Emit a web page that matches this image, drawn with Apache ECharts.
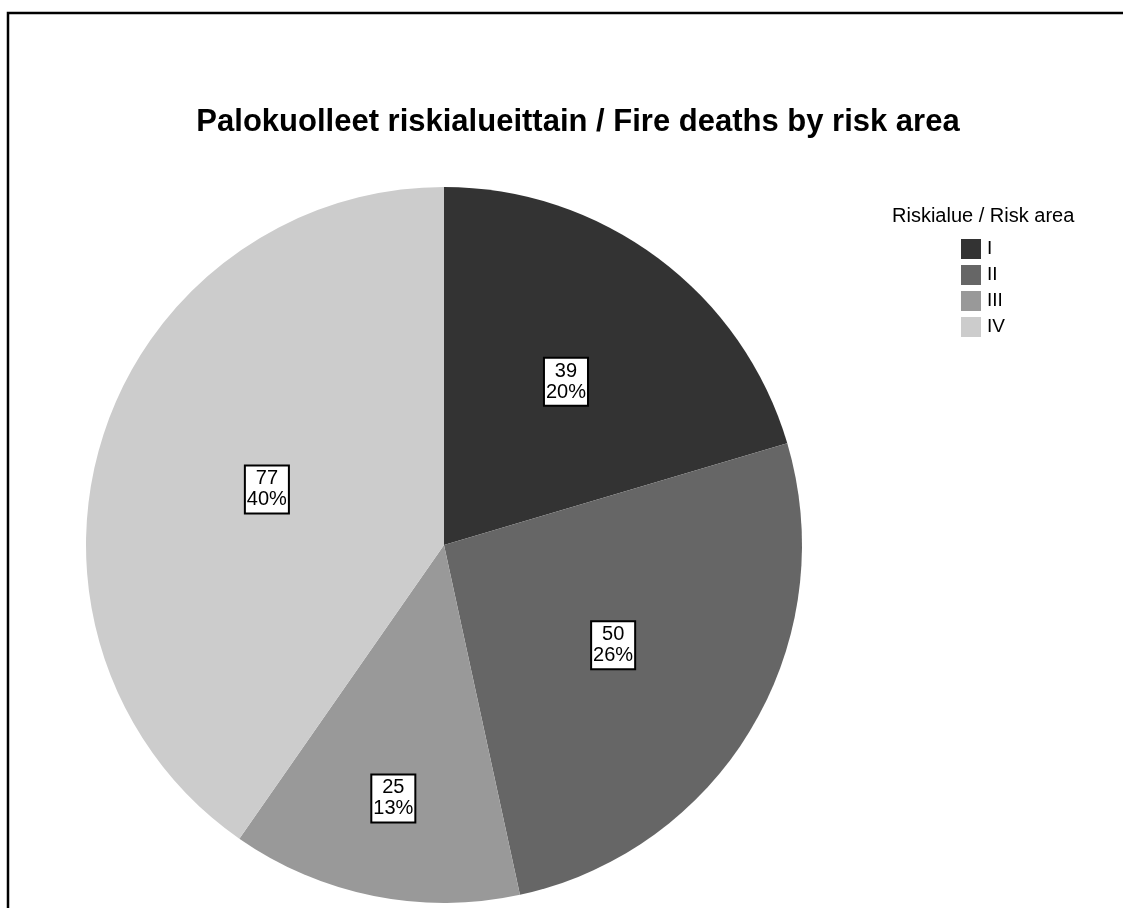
<!DOCTYPE html>
<html>
<head>
<meta charset="utf-8">
<title>Palokuolleet riskialueittain</title>
<script src="https://cdn.jsdelivr.net/npm/echarts@6/dist/echarts.min.js"></script>
<style>
  html, body { margin: 0; padding: 0; background: #fff; }
  #chart { width: 1123px; height: 908px; }
</style>
</head>
<body>
<div id="chart"></div>
<script>
// data
const categories = ['I', 'II', 'III', 'IV'];
const deaths = [39, 50, 25, 77];

// look
const sliceColors = ['#333333', '#666666', '#999999', '#cccccc'];
// how far out each label box sits, as a share of the radius
const labelRadius = [0.56, 0.54, 0.71, 0.51];

const total = deaths.reduce((a, b) => a + b, 0);
const center = [444, 545];
const radius = 358;
const font = '"Liberation Sans", Arial, sans-serif';

const chart = echarts.init(document.getElementById('chart'));

const option = {
  backgroundColor: '#ffffff',
  animation: false,
  title: [
    {
      text: 'Palokuolleet riskialueittain / Fire deaths by risk area',
      left: 573,
      top: 102,
      textAlign: 'center',
      textStyle: { fontFamily: font, fontSize: 31, fontWeight: 'bold', color: '#000' }
    },
    {
      text: 'Riskialue / Risk area',
      left: 887,
      top: 201,
      textStyle: { fontFamily: font, fontSize: 20, fontWeight: 'normal', color: '#000' }
    }
  ],
  legend: {
    orient: 'vertical',
    left: 956,
    top: 234,
    itemWidth: 20,
    itemHeight: 20,
    itemGap: 6,
    icon: 'rect',
    selectedMode: false,
    data: categories,
    textStyle: { fontFamily: font, fontSize: 19, color: '#000', padding: [0, 0, 0, 1] }
  },
  graphic: [
    {
      type: 'rect',
      silent: true,
      shape: { x: 8, y: 13, width: 1300, height: 1000 },
      style: { fill: 'none', stroke: '#000', lineWidth: 2.5 }
    }
  ],
  series: [
    {
      type: 'pie',
      center: center,
      radius: [0, radius],
      startAngle: 90,
      clockwise: true,
      avoidLabelOverlap: false,
      emphasis: { disabled: true },
      data: categories.map((name, i) => ({
        name: name,
        value: deaths[i],
        itemStyle: { color: sliceColors[i] }
      })),
      label: {
        show: true,
        position: 'inside',
        formatter: (p) => p.value + '\n' + Math.round(p.value / total * 100) + '%',
        fontFamily: font,
        fontSize: 20,
        lineHeight: 21,
        color: '#000',
        backgroundColor: '#fff',
        borderColor: '#000',
        borderWidth: 2,
        padding: [3, 1, 1, 1]
      },
      labelLine: { show: false },
      // inside labels sit at half the radius; push each one out along its own ray
      labelLayout: (p) => {
        const r = p.labelRect;
        const lx = r.x + r.width / 2;
        const ly = r.y + r.height / 2;
        const k = labelRadius[p.dataIndex] / 0.5;
        return { dx: (lx - center[0]) * (k - 1), dy: (ly - center[1]) * (k - 1) };
      }
    }
  ]
};

chart.setOption(option);
</script>
</body>
</html>
